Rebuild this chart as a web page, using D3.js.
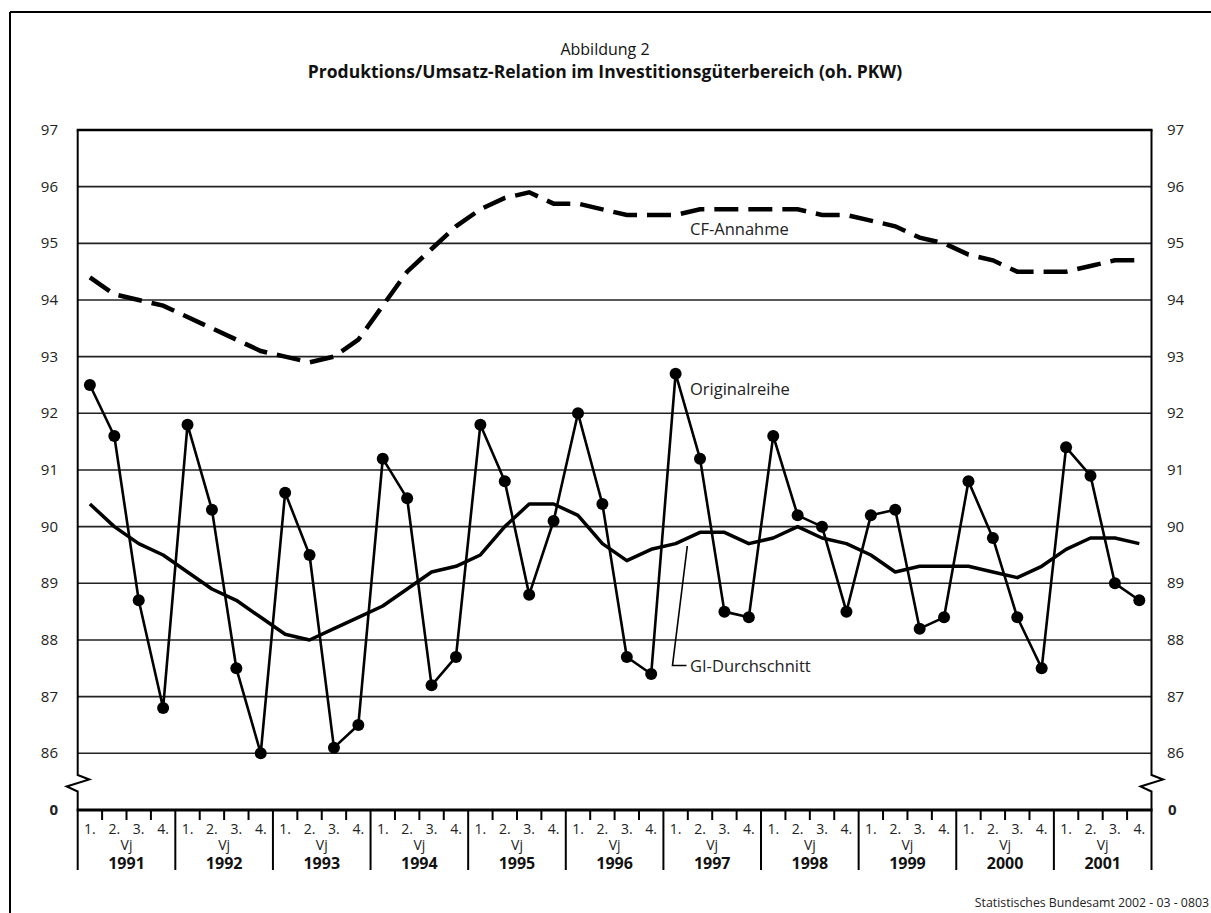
<!DOCTYPE html>
<html>
<head>
<meta charset="utf-8">
<script src="https://cdn.jsdelivr.net/npm/d3@7"></script>
<style>
  html, body { margin: 0; padding: 0; background: #fff; }
  svg { display: block; font-family: "Open Sans", "DejaVu Sans", sans-serif; }
</style>
</head>
<body>
<svg id="chart" width="1211" height="913"></svg>
<script>
const years = ["1991","1992","1993","1994","1995","1996","1997","1998","1999","2000","2001"];
const quarterLabels = ["1.","2.","3.","4."];
const yTicks = [86,87,88,89,90,91,92,93,94,95,96,97];

const originalreihe = [
  92.5, 91.6, 88.7, 86.8,
  91.8, 90.3, 87.5, 86.0,
  90.6, 89.5, 86.1, 86.5,
  91.2, 90.5, 87.2, 87.7,
  91.8, 90.8, 88.8, 90.1,
  92.0, 90.4, 87.7, 87.4,
  92.7, 91.2, 88.5, 88.4,
  91.6, 90.2, 90.0, 88.5,
  90.2, 90.3, 88.2, 88.4,
  90.8, 89.8, 88.4, 87.5,
  91.4, 90.9, 89.0, 88.7
];
const giDurchschnitt = [
  90.4, 90.0, 89.7, 89.5,
  89.2, 88.9, 88.7, 88.4,
  88.1, 88.0, 88.2, 88.4,
  88.6, 88.9, 89.2, 89.3,
  89.5, 90.0, 90.4, 90.4,
  90.2, 89.7, 89.4, 89.6,
  89.7, 89.9, 89.9, 89.7,
  89.8, 90.0, 89.8, 89.7,
  89.5, 89.2, 89.3, 89.3,
  89.3, 89.2, 89.1, 89.3,
  89.6, 89.8, 89.8, 89.7
];
const cfAnnahme = [
  94.4, 94.1, 94.0, 93.9,
  93.7, 93.5, 93.3, 93.1,
  93.0, 92.9, 93.0, 93.3,
  93.9, 94.5, 94.9, 95.3,
  95.6, 95.8, 95.9, 95.7,
  95.7, 95.6, 95.5, 95.5,
  95.5, 95.6, 95.6, 95.6,
  95.6, 95.6, 95.5, 95.5,
  95.4, 95.3, 95.1, 95.0,
  94.8, 94.7, 94.5, 94.5,
  94.5, 94.6, 94.7, 94.7
];

(function () {
const svg = d3.select("#chart");
const W = 1211, H = 913;
const pLeft = 77.7, pRight = 1151.5, pTop = 130, y86 = 753.3, base = 810;

// outer frame
svg.append("line").attr("x1", 10).attr("x2", W + 5).attr("y1", 12).attr("y2", 12).attr("stroke", "#000").attr("stroke-width", 2);
svg.append("line").attr("x1", 10).attr("x2", 10).attr("y1", 12).attr("y2", H + 5).attr("stroke", "#000").attr("stroke-width", 2);

// titles
svg.append("text").attr("x", 605).attr("y", 55).attr("text-anchor", "middle")
  .attr("font-size", 16).attr("fill", "#111").text("Abbildung 2");
svg.append("text").attr("x", 605).attr("y", 78).attr("text-anchor", "middle")
  .attr("font-size", 17.5).attr("font-weight", "bold").attr("fill", "#111")
  .text("Produktions/Umsatz-Relation im Investitionsgüterbereich (oh. PKW)");

// scales
const keys = [];
years.forEach(yr => quarterLabels.forEach((q, i) => keys.push(yr + "-" + (i + 1))));
const x = d3.scaleBand().domain(keys).range([pLeft, pRight]).paddingInner(0).paddingOuter(0);
const xc = i => x(keys[i]) + x.bandwidth() / 2;
const y = d3.scaleLinear().domain([86, 97]).range([y86, pTop]);

// gridlines
svg.append("g").selectAll("line").data(yTicks.filter(t => t < 97)).join("line")
  .attr("x1", pLeft).attr("x2", pRight)
  .attr("y1", d => y(d)).attr("y2", d => y(d))
  .attr("stroke", "#222").attr("stroke-width", 1.6);
// top line
svg.append("line").attr("x1", pLeft - 1).attr("x2", pRight + 1).attr("y1", y(97)).attr("y2", y(97))
  .attr("stroke", "#000").attr("stroke-width", 2.6);

// vertical axes with break
function axisWithBreak(xa) {
  const p = d3.path();
  p.moveTo(xa, pTop);
  p.lineTo(xa, 775);
  p.lineTo(xa + 11.6, 779.5);
  p.lineTo(xa - 11, 786.5);
  p.lineTo(xa, 791.5);
  p.lineTo(xa, base);
  svg.append("path").attr("d", p.toString()).attr("fill", "none")
    .attr("stroke", "#000").attr("stroke-width", 2).attr("stroke-linejoin", "miter");
}
axisWithBreak(pLeft);
axisWithBreak(pRight);

// baseline
svg.append("line").attr("x1", pLeft - 1).attr("x2", pRight + 1).attr("y1", base).attr("y2", base)
  .attr("stroke", "#000").attr("stroke-width", 3);

// y labels
const yl = svg.append("g").attr("font-size", 15).attr("fill", "#222");
yl.selectAll("text.l").data(yTicks).join("text").attr("class", "l")
  .attr("x", 58).attr("y", d => y(d) + 5).attr("text-anchor", "end").text(d => d);
yl.selectAll("text.r").data(yTicks).join("text").attr("class", "r")
  .attr("x", 1167).attr("y", d => y(d) + 5).attr("text-anchor", "start").text(d => d);
svg.append("text").attr("x", 58).attr("y", base + 5).attr("text-anchor", "end")
  .attr("font-size", 15).attr("font-weight", "bold").attr("fill", "#222").text("0");
svg.append("text").attr("x", 1168).attr("y", base + 5).attr("text-anchor", "start")
  .attr("font-size", 15).attr("font-weight", "bold").attr("fill", "#222").text("0");

// x axis: quarter ticks, labels, year separators
const xa = svg.append("g");
keys.forEach((k, i) => {
  const q = i % 4;
  const xs = x(k);
  xa.append("line").attr("x1", xs).attr("x2", xs).attr("y1", base).attr("y2", q === 0 ? 870 : 820)
    .attr("stroke", "#000").attr("stroke-width", 2);
  xa.append("text").attr("x", xc(i)).attr("y", 834).attr("text-anchor", "middle")
    .attr("font-size", 14).attr("fill", "#222").text(quarterLabels[q]);
});
xa.append("line").attr("x1", pRight).attr("x2", pRight).attr("y1", base).attr("y2", 870)
  .attr("stroke", "#000").attr("stroke-width", 2);
years.forEach(yr => {
  const x0 = x(yr + "-1"), x1 = x(yr + "-4") + x.bandwidth();
  const cx = (x0 + x1) / 2;
  xa.append("text").attr("x", cx).attr("y", 850).attr("text-anchor", "middle")
    .attr("font-size", 14).attr("fill", "#222").text("Vj");
  xa.append("text").attr("x", cx).attr("y", 869).attr("text-anchor", "middle")
    .attr("font-size", 16).attr("font-weight", "bold").attr("fill", "#111").text(yr);
});

// lines
const line = d3.line().x((d, i) => xc(i)).y(d => y(d));
svg.append("path").datum(cfAnnahme).attr("d", line).attr("fill", "none")
  .attr("stroke", "#000").attr("stroke-width", 4.5).attr("stroke-dasharray", "24 10");
svg.append("path").datum(giDurchschnitt).attr("d", line).attr("fill", "none")
  .attr("stroke", "#000").attr("stroke-width", 3.5).attr("stroke-linejoin", "round");
svg.append("path").datum(originalreihe).attr("d", line).attr("fill", "none")
  .attr("stroke", "#000").attr("stroke-width", 2.6).attr("stroke-linejoin", "round");
svg.append("g").selectAll("circle").data(originalreihe).join("circle")
  .attr("cx", (d, i) => xc(i)).attr("cy", d => y(d)).attr("r", 6).attr("fill", "#000");

// series labels
svg.append("text").attr("x", 690).attr("y", 235).attr("font-size", 16.5).attr("fill", "#222").text("CF-Annahme");
svg.append("text").attr("x", 690).attr("y", 395).attr("font-size", 16.5).attr("fill", "#222").text("Originalreihe");
svg.append("path").attr("d", "M687.3,546 L672.5,665.5 L686.5,665.5").attr("fill", "none")
  .attr("stroke", "#000").attr("stroke-width", 1.6);
svg.append("text").attr("x", 690).attr("y", 672).attr("font-size", 16.5).attr("fill", "#222").text("GI-Durchschnitt");

// footer
svg.append("text").attr("x", 1209).attr("y", 907).attr("text-anchor", "end")
  .attr("font-size", 12.3).attr("fill", "#222").text("Statistisches Bundesamt 2002 - 03 - 0803");
})();
</script>
</body>
</html>
